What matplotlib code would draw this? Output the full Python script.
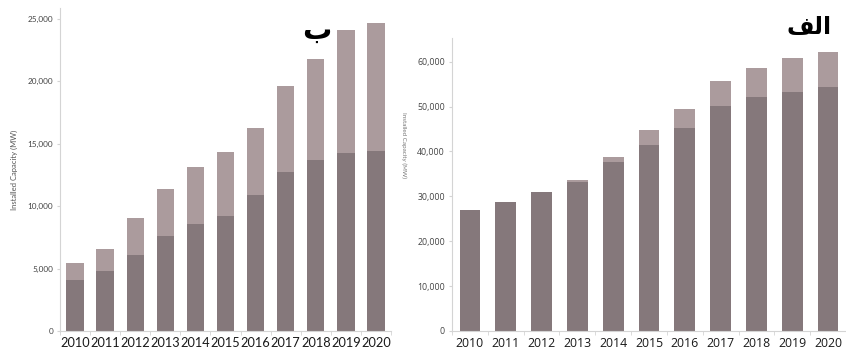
import matplotlib
matplotlib.use("Agg")
import matplotlib.pyplot as plt
import numpy as np

years = ["2010", "2011", "2012", "2013", "2014", "2015", "2016", "2017", "2018", "2019", "2020"]

# Left panel (ب): dark lower segment and total height
left_dark = [4100, 4800, 6100, 7600, 8550, 9250, 10900, 12700, 13700, 14250, 14400]
left_total = [5450, 6600, 9050, 11350, 13150, 14350, 16250, 19600, 21800, 24150, 24650]
left_ticks = [0, 5000, 10000, 15000, 20000, 25000]

# Right panel (الف)
right_dark = [26900, 28700, 31000, 33300, 37700, 41400, 45300, 50200, 52200, 53300, 54400]
right_total = [26900, 28700, 31000, 33600, 38700, 44700, 49400, 55700, 58700, 60900, 62200]
right_ticks = [0, 10000, 20000, 30000, 40000, 50000, 60000]

DARK = "#85787b"
LIGHT = "#ab9b9d"
SPINE = "#d4d4d4"
W, H = 846, 352

fig = plt.figure(figsize=(W / 100, H / 100), dpi=100)

def add_ax(x0, y0, x1, y1):
    return fig.add_axes([x0 / W, 1 - y1 / H, (x1 - x0) / W, (y1 - y0) / H])

def style(ax, ticks, xfont, xsize, ysize):
    x = np.arange(len(years))
    for s in ["top", "right"]:
        ax.spines[s].set_visible(False)
    for s in ["left", "bottom"]:
        ax.spines[s].set_color(SPINE)
        ax.spines[s].set_linewidth(0.8)
    ax.set_xticks(x)
    ax.set_xticklabels(years, fontsize=xsize, family=xfont, color="#1a1a1a")
    ax.set_xticks(np.arange(len(years) + 1) - 0.5, minor=True)
    ax.tick_params(axis="x", which="major", length=0, pad=4)
    ax.tick_params(axis="x", which="minor", length=3, color=SPINE)
    ax.set_yticks(ticks)
    ax.set_yticklabels([f"{t:,}" for t in ticks], fontsize=ysize, family=xfont, color="#444444")
    ax.tick_params(axis="y", length=2, color=SPINE, pad=3)

# Left axes
axl = add_ax(60, 8, 391, 331)
x = np.arange(len(years))
l_light = [t - d for t, d in zip(left_total, left_dark)]
axl.bar(x, left_dark, width=0.58, color=DARK)
axl.bar(x, l_light, bottom=left_dark, width=0.58, color=LIGHT)
axl.set_xlim(-0.5, 10.5)
axl.set_ylim(0, 25880)
style(axl, left_ticks, "Lato", 9.2, 5.9)
axl.set_ylabel("Installed Capacity (MW)", fontsize=5.5, color="#555555", family="Lato", labelpad=7)
fig.text(317 / W, 1 - 31 / H, "ب", fontsize=21, fontweight="bold", family="DejaVu Sans",
         ha="center", va="center", color="black")

# Right axes
axr = add_ax(452, 38, 846, 331)
r_light = [t - d for t, d in zip(right_total, right_dark)]
axr.bar(x, right_dark, width=0.58, color=DARK)
axr.bar(x, r_light, bottom=right_dark, width=0.58, color=LIGHT)
axr.set_xlim(-0.5, 10.38)
axr.set_ylim(0, 65280)
style(axr, right_ticks, "Open Sans", 8.8, 6.3)
fig.text(404 / W, 1 - 145 / H, "Installed Capacity (MW)", fontsize=4.5, rotation=-90,
         color="#777777", family="Lato", ha="center", va="center")
# "الف" in visual order using presentation forms
fig.text(809 / W, 1 - 27 / H, "\uFED2\uFEDF\uFE8D", fontsize=17, fontweight="bold",
         family="DejaVu Sans", ha="center", va="center", color="black")

fig.savefig("out.png", dpi=100)
